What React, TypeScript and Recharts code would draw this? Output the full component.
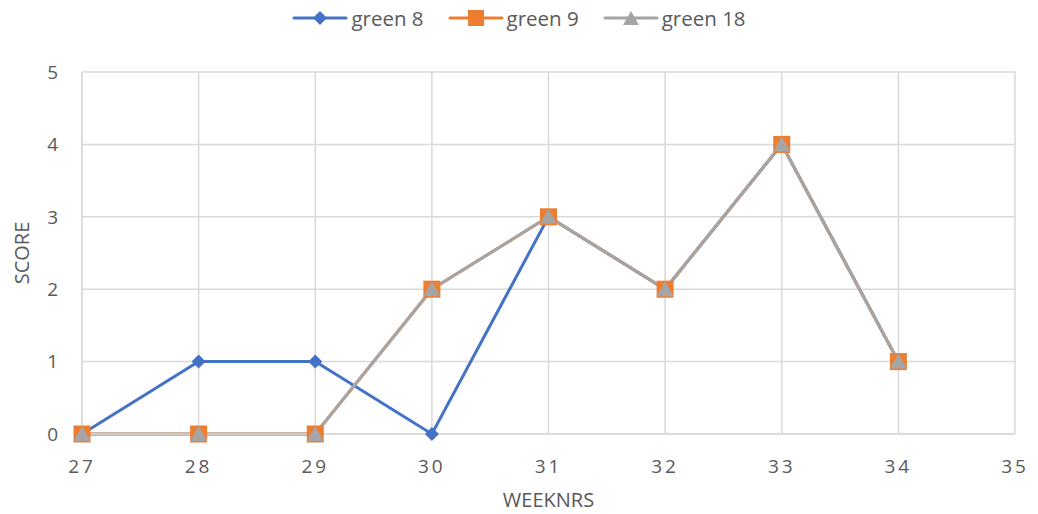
import { LineChart, Line, XAxis, YAxis, CartesianGrid } from 'recharts';

const weeks = [27, 28, 29, 30, 31, 32, 33, 34];
const green8 = [0, 1, 1, 0, 3, 2, 4, 1];
const green9 = [0, 0, 0, 2, 3, 2, 4, 1];
const green18 = [0, 0, 0, 2, 3, 2, 4, 1];
const xTicks = [27, 28, 29, 30, 31, 32, 33, 34, 35];
const yTicks = [0, 1, 2, 3, 4, 5];

const series = [
  { key: 'green8', name: 'green 8', color: '#4472c4', shape: 'diamond' },
  { key: 'green9', name: 'green 9', color: '#ed7d31', shape: 'square' },
  { key: 'green18', name: 'green 18', color: '#a5a5a5', shape: 'triangle' },
];

const data = weeks.map((w, i) => ({
  week: w,
  green8: green8[i],
  green9: green9[i],
  green18: green18[i],
}));

const FONT = '"Open Sans", "Noto Sans", sans-serif';
const TXT = '#595959';

const marker = (shape: string, color: string) => (props: any) => {
  const { cx, cy, index } = props;
  if (cx == null || cy == null) return <g key={index} />;
  if (shape === 'diamond') {
    return <path key={index} d={`M${cx},${cy - 7}L${cx + 7},${cy}L${cx},${cy + 7}L${cx - 7},${cy}Z`} fill={color} />;
  }
  if (shape === 'square') {
    return <rect key={index} x={cx - 8.5} y={cy - 8.5} width={17} height={17} fill={color} />;
  }
  return <path key={index} d={`M${cx},${cy - 8}L${cx + 8.5},${cy + 7}L${cx - 8.5},${cy + 7}Z`} fill={color} />;
};

function LegendIcon({ shape, color }: { shape: string; color: string }) {
  return (
    <svg width={56} height={20} style={{ display: 'block' }}>
      <line x1={2} y1={10} x2={54} y2={10} stroke={color} strokeWidth={3} strokeLinecap="round" />
      {shape === 'diamond' && <path d="M28,3L35,10L28,17L21,10Z" fill={color} />}
      {shape === 'square' && <rect x={20} y={2} width={16} height={16} fill={color} />}
      {shape === 'triangle' && <path d="M28,3L36,17L20,17Z" fill={color} />}
    </svg>
  );
}

export default function App() {
  return (
    <div style={{ position: 'absolute', left: 0, top: 0, width: 1038, height: 514, background: '#fff', fontFamily: FONT }}>
      <div style={{ position: 'absolute', top: 4, left: 0, width: 1038, display: 'flex', justifyContent: 'center', gap: 24 }}>
        {series.map((s) => (
          <div key={s.key} style={{ display: 'flex', alignItems: 'center', gap: 3, color: TXT, fontSize: 20.5 }}>
            <LegendIcon shape={s.shape} color={s.color} />
            <span>{s.name}</span>
          </div>
        ))}
      </div>
      <LineChart width={1038} height={514} data={data} margin={{ top: 72, right: 23, bottom: 30, left: 0 }}>
        <CartesianGrid stroke="#d9d9d9" strokeWidth={1.5} />
        <XAxis
          dataKey="week"
          type="number"
          domain={[27, 35]}
          ticks={xTicks}
          axisLine={{ stroke: '#d9d9d9', strokeWidth: 1.5 }}
          tickLine={false}
          tickMargin={20}
          height={50}
          tick={{ fill: TXT, fontSize: 19, fontFamily: FONT, letterSpacing: 3 }}
          label={{ value: 'WEEKNRS', position: 'insideBottom', offset: -23, fill: TXT, fontSize: 20, fontFamily: FONT }}
        />
        <YAxis
          domain={[0, 5]}
          ticks={yTicks}
          axisLine={{ stroke: '#d9d9d9', strokeWidth: 1.5 }}
          tickLine={false}
          tickMargin={18}
          width={82}
          tick={{ fill: TXT, fontSize: 19, fontFamily: FONT }}
          label={{ value: 'SCORE', angle: -90, position: 'insideLeft', offset: 22, fill: TXT, fontSize: 20, fontFamily: FONT, style: { textAnchor: 'middle' } }}
        />
        {series.map((s) => (
          <Line
            key={s.key}
            dataKey={s.key}
            name={s.name}
            stroke={s.color}
            strokeWidth={3}
            dot={marker(s.shape, s.color)}
            activeDot={false}
            isAnimationActive={false}
          />
        ))}
      </LineChart>
    </div>
  );
}
